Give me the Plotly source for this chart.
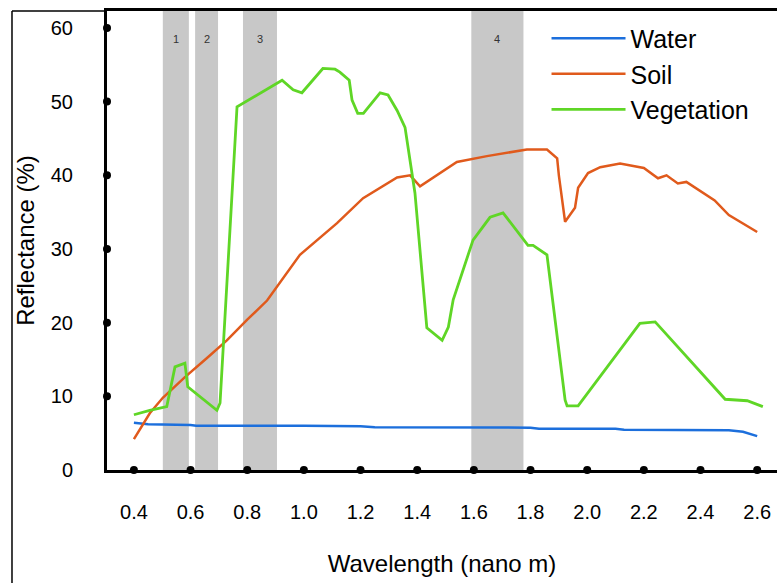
import plotly.graph_objects as go

# ---- data ----
water_x = [0.40, 0.45, 0.60, 0.62, 1.00, 1.20, 1.25, 1.80, 1.83, 2.10, 2.13, 2.50, 2.55, 2.58, 2.60]
water_y = [6.4, 6.2, 6.1, 6.0, 6.0, 5.95, 5.8, 5.75, 5.6, 5.6, 5.45, 5.4, 5.2, 4.9, 4.6]

soil_x = [0.40, 0.456, 0.502, 0.58, 0.658, 0.728, 0.80, 0.87, 0.986, 1.117, 1.209, 1.329, 1.375,
          1.41, 1.54, 1.646, 1.787, 1.858, 1.894, 1.90, 1.922, 1.957, 1.968, 2.003, 2.046, 2.116,
          2.20, 2.25, 2.28, 2.32, 2.35, 2.45, 2.50, 2.60]
soil_y = [4.2, 7.7, 9.8, 12.6, 15.2, 17.6, 20.4, 23.0, 29.2, 33.5, 36.9, 39.7, 40.0,
          38.5, 41.8, 42.6, 43.5, 43.5, 42.3, 40.0, 33.7, 35.6, 38.3, 40.3, 41.1, 41.6,
          41.0, 39.6, 40.0, 38.9, 39.1, 36.6, 34.6, 32.3]

veg_x = [0.40, 0.456, 0.516, 0.545, 0.58, 0.59, 0.693, 0.704, 0.764, 0.923, 0.962, 0.993, 1.067,
         1.11, 1.127, 1.16, 1.17, 1.19, 1.21, 1.269, 1.297, 1.329, 1.357, 1.375, 1.392, 1.434,
         1.488, 1.51, 1.527, 1.597, 1.657, 1.703, 1.738, 1.791, 1.809, 1.858, 1.922, 1.929,
         1.968, 2.186, 2.24, 2.487, 2.565, 2.62]
veg_y = [7.5, 8.1, 8.6, 14.0, 14.5, 11.3, 8.1, 9.1, 49.3, 52.9, 51.6, 51.2, 54.5,
         54.4, 54.0, 52.9, 50.2, 48.4, 48.4, 51.2, 50.9, 48.8, 46.5, 42.1, 37.6, 19.3,
         17.6, 19.4, 23.1, 31.2, 34.3, 34.9, 33.2, 30.5, 30.5, 29.2, 9.5, 8.7,
         8.7, 19.9, 20.1, 9.6, 9.4, 8.6]

band_labels = ["1", "2", "3", "4"]
band_start = [0.502, 0.616, 0.785, 1.591]
band_end = [0.594, 0.697, 0.905, 1.775]

x_ticks = [0.4, 0.6, 0.8, 1.0, 1.2, 1.4, 1.6, 1.8, 2.0, 2.2, 2.4, 2.6]
x_tick_text = ["0.4", "0.6", "0.8", "1.0", "1.2", "1.4", "1.6", "1.8", "2.0", "2.2", "2.4", "2.6"]
y_ticks = [0, 10, 20, 30, 40, 50, 60]

X_RANGE = [0.305, 2.67]
Y_RANGE = [0, 62.3]

FONT = "Liberation Sans, Arial, sans-serif"

fig = go.Figure()

fig.add_trace(go.Scatter(x=water_x, y=water_y, mode="lines", name="Water",
                         line=dict(color="#1c6fdc", width=2.5)))
fig.add_trace(go.Scatter(x=soil_x, y=soil_y, mode="lines", name="Soil",
                         line=dict(color="#e05a1c", width=2.5)))
fig.add_trace(go.Scatter(x=veg_x, y=veg_y, mode="lines", name="Vegetation",
                         line=dict(color="#5fd626", width=2.8)))

# tick dots on the axes
fig.add_trace(go.Scatter(x=x_ticks, y=[Y_RANGE[0]] * len(x_ticks), mode="markers",
                         marker=dict(color="black", size=8), cliponaxis=False,
                         showlegend=False, hoverinfo="skip"))
fig.add_trace(go.Scatter(x=[X_RANGE[0]] * (len(y_ticks) - 1), y=y_ticks[1:], mode="markers",
                         marker=dict(color="black", size=8), cliponaxis=False,
                         showlegend=False, hoverinfo="skip"))

shapes = []
annotations = []
for lab, s, e in zip(band_labels, band_start, band_end):
    shapes.append(dict(type="rect", xref="x", yref="paper", x0=s, x1=e, y0=0, y1=1,
                       fillcolor="#c8c8c8", line=dict(width=0), layer="below"))
    annotations.append(dict(x=(s + e) / 2, y=0.956, xref="x", yref="paper", text=lab,
                            showarrow=False, font=dict(size=11, color="#333333", family=FONT)))

# outer frame (left and top)
shapes.append(dict(type="line", xref="paper", yref="paper", x0=-0.1418, x1=-0.1418, y0=-0.3, y1=1,
                   line=dict(color="black", width=1.5)))
shapes.append(dict(type="line", xref="paper", yref="paper", x0=-0.1418, x1=0, y0=1, y1=1,
                   line=dict(color="black", width=1.5)))

fig.update_layout(
    width=777, height=583,
    margin=dict(l=107, r=0, t=11, b=113),
    paper_bgcolor="white", plot_bgcolor="white",
    font=dict(family=FONT, color="black"),
    shapes=shapes, annotations=annotations,
    legend=dict(x=0.656, y=0.99, xanchor="left", yanchor="top",
                bgcolor="rgba(0,0,0,0)", font=dict(size=25, family=FONT),
                itemwidth=74, tracegroupgap=0),
    xaxis=dict(range=X_RANGE, tickvals=x_ticks, ticktext=x_tick_text,
               showgrid=False, zeroline=False, showline=True, linecolor="black",
               linewidth=3, mirror=True, ticks="", ticklabelstandoff=22,
               tickfont=dict(size=20, family=FONT),
               title=dict(text="Wavelength (nano m)", font=dict(size=24, family=FONT), standoff=34)),
    yaxis=dict(range=Y_RANGE, tickvals=y_ticks, showgrid=False, zeroline=False,
               showline=True, linecolor="black", linewidth=3, ticks="",
               ticklabelstandoff=27, tickfont=dict(size=20, family=FONT),
               title=dict(text="Reflectance (%)", font=dict(size=24, family=FONT), standoff=10)),
)

fig.write_html("out.html")
